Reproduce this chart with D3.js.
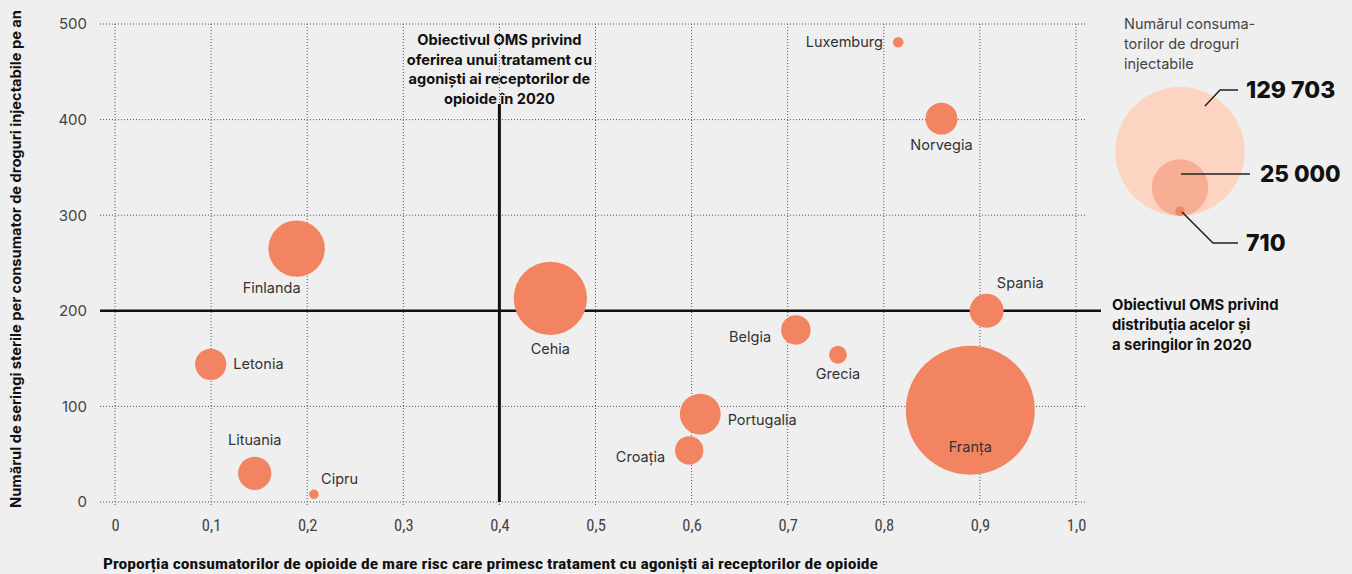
<!DOCTYPE html>
<html><head><meta charset="utf-8">
<script src="https://cdn.jsdelivr.net/npm/d3@7"></script>
<style>
body{margin:0;background:#efefef;}
svg{display:block;font-family:"Inter","Liberation Sans",sans-serif;}
.narrow{font-family:"Liberation Sans Narrow","Roboto Condensed","Liberation Sans",sans-serif;}
</style></head><body>
<svg id="c" width="1352" height="574"></svg>
<script>
const countries = ["Luxemburg","Norvegia","Finlanda","Cehia","Letonia","Lituania","Cipru","Portugalia","Croația","Belgia","Grecia","Spania","Franța"];
const proportion = [0.815,0.860,0.189,0.453,0.0996,0.1454,0.207,0.609,0.5975,0.7085,0.7523,0.907,0.890];
const syringes = [481,401,265,213,144,30,8,92,54,180,154,200,96];
const users = [870,7930,24800,41900,7630,8630,710,13000,6240,6780,2510,9000,129703];
const labelSide = ["left","belowTight","belowLeft","below","right","above","aboveRight","rightLow","leftLow","leftLow","belowTight","aboveRight","inside"];
const xTicks = [0,0.1,0.2,0.3,0.4,0.5,0.6,0.7,0.8,0.9,1.0];
const yTicks = [0,100,200,300,400,500];
const legendValues = [129703,25000,710];
const targetX = 0.4, targetY = 200;

const svg = d3.select("#c");
const x = d3.scaleLinear().domain([0,1]).range([115,1076]);
const y = d3.scaleLinear().domain([0,500]).range([502,24]);
const r = d3.scaleSqrt().domain([0,129703]).range([0,64.5]);

// grid
const grid = svg.append("g").attr("stroke","#555").attr("stroke-width",1).attr("stroke-dasharray","1,2");
grid.selectAll("line.v").data(xTicks).join("line")
  .attr("x1",d=>x(d)).attr("x2",d=>x(d)).attr("y1",y(500)).attr("y2",y(0)+3);
grid.selectAll("line.h").data(yTicks).join("line")
  .attr("x1",100).attr("x2",1085).attr("y1",d=>y(d)).attr("y2",d=>y(d));

// axes (tick labels only)
const yAxis = svg.append("g").attr("transform","translate(100,0)")
  .call(d3.axisLeft(y).tickValues(yTicks).tickSize(0).tickPadding(13));
yAxis.select(".domain").remove();
yAxis.selectAll("text").attr("font-size",15).attr("fill","#444").attr("font-family","Inter, sans-serif");

const fmt = d => d===0 ? "0" : d3.format(".1f")(d).replace(".",",");
const xAxis = svg.append("g").attr("transform","translate(0,519)")
  .call(d3.axisBottom(x).tickValues(xTicks).tickFormat(fmt).tickSize(0).tickPadding(0));
xAxis.select(".domain").remove();
xAxis.selectAll("text").attr("class","narrow").attr("font-size",16.5).attr("fill","#444").attr("dy","0.7em");

// target lines
svg.append("line").attr("x1",x(targetX)).attr("x2",x(targetX)).attr("y1",104).attr("y2",y(0))
  .attr("stroke","#111").attr("stroke-width",3);
svg.append("line").attr("x1",100).attr("x2",1101).attr("y1",y(targetY)).attr("y2",y(targetY))
  .attr("stroke","#111").attr("stroke-width",2.5);

// target annotations
const vt = svg.append("text").attr("x",x(targetX)).attr("text-anchor","middle")
  .attr("font-size",14.6).attr("font-weight",700).attr("fill","#111");
["Obiectivul OMS privind","oferirea unui tratament cu","agoniști ai receptorilor de","opioide în 2020"]
  .forEach((t,i)=>vt.append("tspan").attr("x",x(targetX)).attr("y",45+i*19.5).text(t));
const ht = svg.append("text").attr("font-size",14.8).attr("font-weight",700).attr("fill","#111");
["Obiectivul OMS privind","distribuția acelor și","a seringilor în 2020"]
  .forEach((t,i)=>ht.append("tspan").attr("x",1112).attr("y",310+i*20).text(t));

// bubbles
const data = countries.map((c,i)=>({c,x:proportion[i],y:syringes[i],v:users[i],side:labelSide[i]}));
svg.append("g").selectAll("circle").data(data).join("circle")
  .attr("cx",d=>x(d.x)).attr("cy",d=>y(d.y)).attr("r",d=>r(d.v)).attr("fill","#f28462");

// labels
svg.append("g").selectAll("text").data(data).join("text")
  .attr("font-size",14.5).attr("fill","#333")
  .each(function(d){
    const cx=x(d.x), cy=y(d.y), rr=r(d.v), s=d3.select(this);
    let tx=cx, ty=cy, a="middle";
    if(d.side==="left"){tx=cx-rr-10;a="end";ty=cy+5;}
    else if(d.side==="leftLow"){tx=cx-rr-10;a="end";ty=cy+12;}
    else if(d.side==="right"){tx=cx+rr+7;a="start";ty=cy+5;}
    else if(d.side==="rightLow"){tx=cx+rr+7;a="start";ty=cy+11;}
    else if(d.side==="below"){ty=cy+rr+19;}
    else if(d.side==="belowTight"){ty=cy+rr+15;}
    else if(d.side==="belowLeft"){tx=cx-25;ty=cy+rr+16;}
    else if(d.side==="above"){ty=cy-rr-12;}
    else if(d.side==="aboveRight"){tx=cx+6+rr*0.25;a="start";ty=cy-rr-6;}
    else if(d.side==="inside"){ty=cy+42;}
    s.attr("x",tx).attr("y",ty).attr("text-anchor",a).text(d.c);
  });

// axis titles
svg.append("text").attr("class","narrow").attr("x",103).attr("y",569)
  .attr("font-size",15.5).attr("font-weight",700).attr("fill","#111")
  .attr("textLength",775).attr("lengthAdjust","spacingAndGlyphs")
  .text("Proporția consumatorilor de opioide de mare risc care primesc tratament cu agoniști ai receptorilor de opioide");
svg.append("text").attr("transform","translate(21,259) rotate(-90)").attr("text-anchor","middle")
  .attr("font-size",14.5).attr("font-weight",700).attr("fill","#111")
  .attr("textLength",498).attr("lengthAdjust","spacingAndGlyphs")
  .text("Numărul de seringi sterile per consumator de droguri injectabile pe an");

// legend
const lg = svg.append("g");
const lt = lg.append("text").attr("font-size",14.5).attr("fill","#444");
["Numărul consuma-","torilor de droguri","injectabile"].forEach((t,i)=>lt.append("tspan").attr("x",1124).attr("y",29+i*20).text(t));
const lcx=1180, lbottom=216;
const lcols=["#fdd4c1","#f6ae95","#f28462"];
lg.selectAll("circle").data(legendValues).join("circle")
  .attr("cx",lcx).attr("cy",d=>lbottom-r(d)).attr("r",d=>r(d)).attr("fill",(d,i)=>lcols[i]);
function pl(pts){lg.append("polyline").attr("points",pts.map(q=>q.join(",")).join(" "))
  .attr("stroke","#222").attr("stroke-width",1.5).attr("fill","none");}
pl([[1205,106],[1220,90],[1238,90]]);
pl([[1181,174],[1250,174]]);
pl([[1182,212],[1213,243],[1238,243]]);
const fmtN = d=>d3.format(",")(d).replace(/,/g," ");
lg.append("text").attr("x",1246).attr("y",98).attr("font-size",23).attr("font-weight",800).attr("fill","#111").text(fmtN(legendValues[0]));
lg.append("text").attr("x",1260).attr("y",182).attr("font-size",22.5).attr("font-weight",800).attr("fill","#111").text(fmtN(legendValues[1]));
lg.append("text").attr("x",1246).attr("y",251).attr("font-size",23).attr("font-weight",800).attr("fill","#111").text(fmtN(legendValues[2]));
</script></body></html>
